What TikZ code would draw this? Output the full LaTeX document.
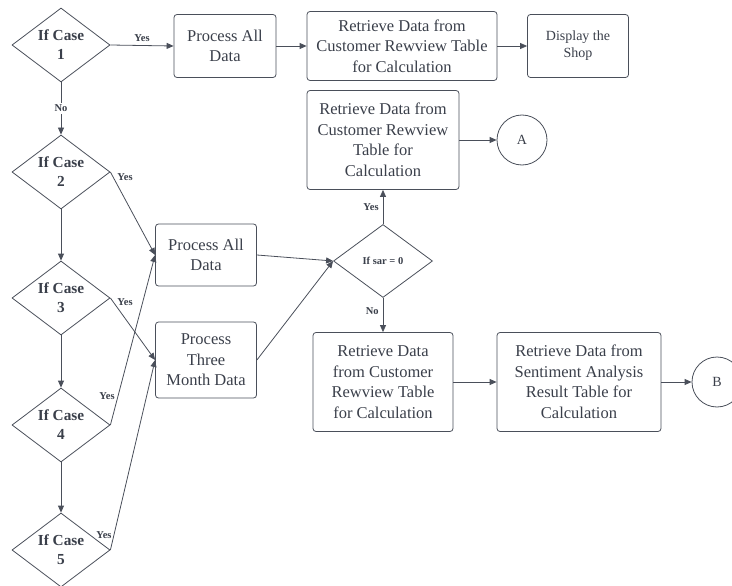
\documentclass[tikz,border=0pt]{standalone}
\usepackage{fontspec}
\setmainfont{Liberation Serif}
\usetikzlibrary{shapes.geometric,arrows.meta}
\definecolor{ink}{HTML}{3A3F4A}
\definecolor{edge}{HTML}{4A4F5A}
\begin{document}
\begin{tikzpicture}[x=1pt,y=-1pt,
  every node/.style={text=ink},
  procbox/.style={draw=edge,line width=0.8pt,rounded corners=3pt,align=center,
    font=\fontsize{16.5}{20.5}\selectfont,inner sep=0pt},
  decision/.style={draw=edge,line width=0.8pt,diamond,inner sep=0pt,
    minimum width=98pt,minimum height=74pt},
  casetext/.style={align=center,font=\fontsize{15.3}{19}\selectfont\bfseries},
  connector/.style={circle,draw=edge,line width=0.8pt,minimum size=50pt,inner sep=0pt,
    font=\fontsize{14}{16}\selectfont},
  flow/.style={draw=edge,line width=0.8pt,-{Triangle[length=7pt,width=6pt]}},
  yeslbl/.style={font=\fontsize{10.5}{12}\selectfont\bfseries,inner sep=1pt},
]
\useasboundingbox (0,0) rectangle (732,586);

% left column of case decisions
\node[decision,label={[casetext]center:If Case\\1}] (d1) at (61,45) {};
\node[decision,label={[casetext]center:If Case\\2}] (d2) at (61,172) {};
\node[decision,label={[casetext]center:If Case\\3}] (d3) at (61,298) {};
\node[decision,label={[casetext]center:If Case\\4}] (d4) at (61,425) {};
\node[decision,label={[casetext]center:If Case\\5}] (d5) at (61,550) {};

% top row
\node[procbox,minimum width=102pt,minimum height=63pt] (p1) at (225,46) {Process All\\Data};
\node[procbox,minimum width=190pt,minimum height=69pt] (r1) at (402,46)
  {Retrieve Data from\\Customer Rewview Table\\for Calculation};
\node[procbox,minimum width=101pt,minimum height=63pt,font=\fontsize{14}{17}\selectfont]
  (shop) at (578,46) {Display the\\Shop};

% middle processing
\node[procbox,minimum width=101pt,minimum height=62pt] (pa) at (206,255) {Process All\\Data};
\node[procbox,minimum width=101pt,minimum height=76pt] (pt) at (206,360) {Process\\Three\\Month Data};

% sar decision and branches
\node[decision,minimum width=99pt,minimum height=73pt,
  label={[font=\fontsize{10.5}{12}\selectfont\bfseries]center:If sar = 0}] (sar) at (383,261) {};
\node[procbox,minimum width=152pt,minimum height=99pt] (r2) at (383,140)
  {Retrieve Data from\\Customer Rewview\\Table for\\Calculation};
\node[connector] (ca) at (522,140) {A};
\node[procbox,minimum width=140pt,minimum height=99pt] (r3) at (383,382)
  {Retrieve Data\\from Customer\\Rewview Table\\for Calculation};
\node[procbox,minimum width=164pt,minimum height=99pt] (r4) at (579,382)
  {Retrieve Data from\\Sentiment Analysis\\Result Table for\\Calculation};
\node[connector] (cb) at (717,382) {B};

% connectors
\draw[flow] (d1.east) -- node[yeslbl,above=2pt] {Yes} (p1.west);
\draw[flow] (p1.east) -- (r1.west);
\draw[flow] (r1.east) -- (shop.west);
\draw[flow] (d1.south) -- node[yeslbl,fill=white,inner sep=2pt] {No} (d2.north);
\draw[flow] (d2.south) -- (d3.north);
\draw[flow] (d3.south) -- (d4.north);
\draw[flow] (d4.south) -- (d5.north);

\draw[flow] (d2.east) -- node[yeslbl,pos=0.06,right=3pt] {Yes} (pa.west);
\draw[flow] (d3.east) -- node[yeslbl,pos=0.06,right=3pt] {Yes} (pt.west);
\draw[flow] (d4.east) -- node[yeslbl,pos=0.17,left=2pt] {Yes} (pa.west);
\draw[flow] (d5.east) -- node[yeslbl,pos=0.08,left=1pt] {Yes} (pt.west);

\draw[flow] (pa.east) -- (sar.west);
\draw[flow] (pt.east) -- (sar.west);
\draw[flow] (sar.north) -- node[yeslbl,left=3pt] {Yes} (r2.south);
\draw[flow] (r2.east) -- (ca.west);
\draw[flow] (sar.south) -- node[yeslbl,pos=0.38,left=3pt] {No} (r3.north);
\draw[flow] (r3.east) -- (r4.west);
\draw[flow] (r4.east) -- (cb.west);
\end{tikzpicture}
\end{document}
